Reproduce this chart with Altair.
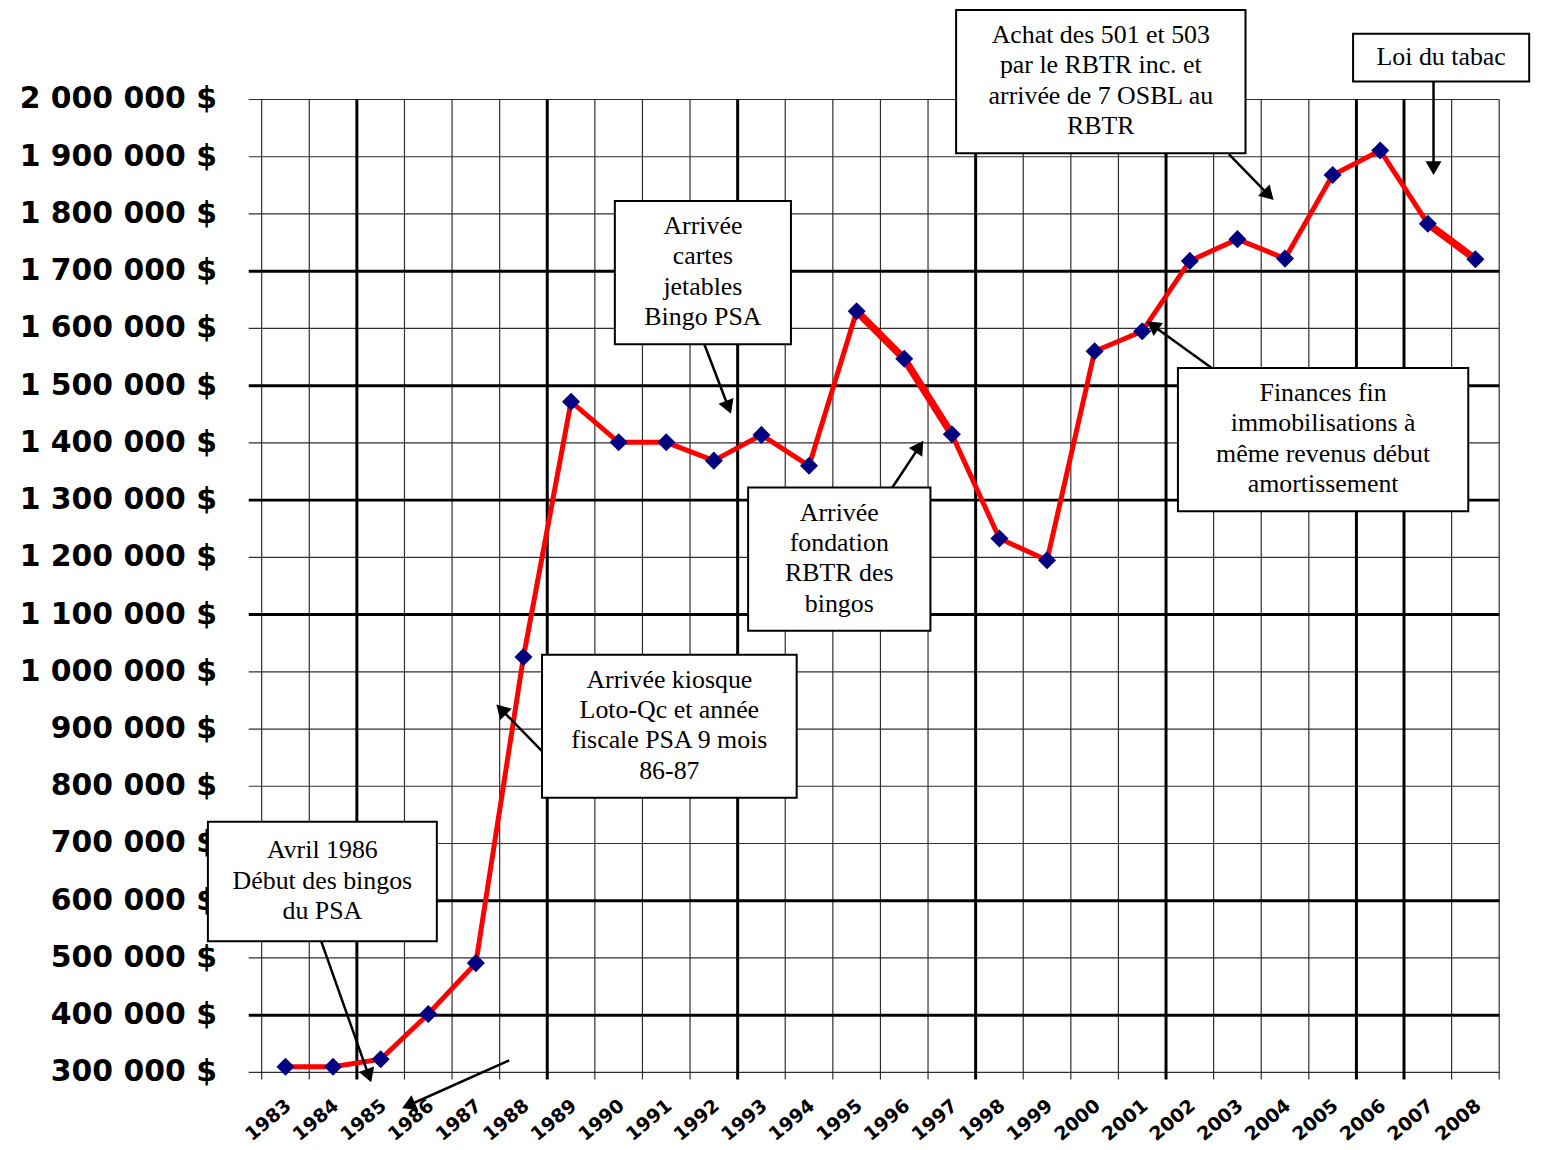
import math
import altair as alt
import pandas as pd

# ---------------- data ----------------
years = list(range(1983, 2009))
revenus = [310000, 310000, 323000, 402000, 491000, 1026000, 1472000, 1401000,
           1401000, 1369000, 1414000, 1360000, 1630000, 1547000, 1415000, 1233000,
           1195000, 1560000, 1595000, 1718000, 1756000, 1722000, 1868000, 1911000,
           1783000, 1721000]
thick_groups = {"a": [1995, 1996, 1997], "b": [2007, 2008]}

y_ticks = list(range(300000, 2000001, 100000))
y_labels = [f"{v:,}".replace(",", " ") + " $" for v in y_ticks]
x_labels = [str(y) for y in years]
thick_h = [400000, 600000, 1100000, 1300000, 1500000, 1700000]
bounds = [1982.5 + i for i in range(27)]
thick_v = [1984.5, 1988.5, 1992.5, 1997.5, 2001.5, 2005.5, 2006.5]

# annotation boxes (data units: year, $)
ann_text = [
    "Avril 1986\nDébut des bingos\ndu PSA",
    "Arrivée kiosque\nLoto-Qc et année\nfiscale PSA 9 mois\n86-87",
    "Arrivée\ncartes\njetables\nBingo PSA",
    "Arrivée\nfondation\nRBTR des\nbingos",
    "Achat des 501 et 503\npar le RBTR inc. et\narrivée de 7 OSBL au\nRBTR",
    "Loi du tabac",
    "Finances fin\nimmobilisations à\nmême revenus début\namortissement",
]
ann_x1 = [1981.37, 1988.39, 1989.92, 1992.72, 1997.09, 2005.43, 2001.75]
ann_x2 = [1986.18, 1993.74, 1993.62, 1996.55, 2003.17, 2009.13, 2007.85]
ann_y1 = [738000, 1030000, 1822700, 1322100, 2156400, 2114700, 1530700]
ann_y2 = [529000, 780000, 1572400, 1071800, 1906100, 2031300, 1280400]

# arrows: start -> tip (data units)
arr_sx = [1983.75, 1987.70, 1988.39, 1991.80, 1995.75, 2002.82, 2007.12, 2002.46]
arr_sy = [529400, 320900, 861400, 1572400, 1322100, 1904400, 2031300, 1530700]
arr_tx = [1984.80, 1985.45, 1987.43, 1992.36, 1996.40, 2003.76, 2007.12, 2001.10]
arr_ty = [282600, 237400, 943100, 1450700, 1403800, 1824400, 1867900, 1612400]

# ---------------- layout ----------------
W, H = 1244, 978
X0, X1 = 1982.5, 2008.5
Y0, Y1 = 300000, 2000000
LH = 30.5
xs = alt.Scale(domain=[X0, X1], nice=False, zero=False)
ys = alt.Scale(domain=[Y0, Y1], nice=False, zero=False)


def to_px(x, y):
    return ((x - X0) / (X1 - X0) * W, (Y1 - y) / (Y1 - Y0) * H)


def to_data(px, py):
    return (X0 + px / W * (X1 - X0), Y1 - py / H * (Y1 - Y0))


df = pd.DataFrame({"annee": years, "revenu": revenus})
rows = []
for g, ys_ in thick_groups.items():
    for yr in ys_:
        rows.append({"annee": yr, "revenu": revenus[years.index(yr)], "g": g})
df_thick = pd.DataFrame(rows)

hthin = pd.DataFrame({"v": [v for v in y_ticks if v not in thick_h]})
hthick = pd.DataFrame({"v": thick_h})
vthin = pd.DataFrame({"b": [b for b in bounds if b not in thick_v]})
vthick = pd.DataFrame({"b": thick_v})
ylab = pd.DataFrame({"v": y_ticks, "lab": y_labels})
xlab = pd.DataFrame({"annee": years, "lab": x_labels})
xlab["xl"] = xlab.annee + 3 / W * (X1 - X0)

ann = pd.DataFrame({"x1": ann_x1, "x2": ann_x2, "y1": ann_y1, "y2": ann_y2, "text": ann_text})
ann["tx"] = (ann.x1 + ann.x2) / 2
tys = []
for y1, y2, t in zip(ann_y1, ann_y2, ann_text):
    n = t.count("\n") + 1
    _, cpy = to_px(0, (y1 + y2) / 2)
    tys.append(to_data(0, cpy - (n - 1) * LH / 2 - 1)[1])
ann["ty"] = tys

arr_rows = []
for sx, sy, tx, ty in zip(arr_sx, arr_sy, arr_tx, arr_ty):
    spx, spy = to_px(sx, sy)
    tpx, tpy = to_px(tx, ty)
    dx, dy = tpx - spx, tpy - spy
    L = math.hypot(dx, dy)
    ux, uy = dx / L, dy / L
    ang = math.degrees(math.atan2(dx, -dy)) % 360
    ex, ey = to_data(tpx - ux * 8, tpy - uy * 8)
    cx, cy = to_data(tpx - ux * 7, tpy - uy * 7)
    arr_rows.append({"sx": sx, "sy": sy, "ex": ex, "ey": ey, "cx": cx, "cy": cy, "ang": ang})
arr = pd.DataFrame(arr_rows)

# ---------------- layers ----------------
l_hthin = alt.Chart(hthin).mark_rule(color="#2e2e2e", strokeWidth=1.2).encode(
    y=alt.Y("v:Q", scale=ys, axis=None), x=alt.value(-13), x2=alt.value(W))
l_hthick = alt.Chart(hthick).mark_rule(color="black", strokeWidth=3).encode(
    y=alt.Y("v:Q", scale=ys, axis=None), x=alt.value(-13), x2=alt.value(W))
l_vthin = alt.Chart(vthin).mark_rule(color="#2e2e2e", strokeWidth=1.2).encode(
    x=alt.X("b:Q", scale=xs, axis=None), y=alt.value(0), y2=alt.value(H + 7))
l_vthick = alt.Chart(vthick).mark_rule(color="black", strokeWidth=3).encode(
    x=alt.X("b:Q", scale=xs, axis=None), y=alt.value(0), y2=alt.value(H + 7))

# tick labels (drawn as text marks through the same scales)
l_ylab = alt.Chart(ylab).mark_text(font="DejaVu Sans", fontWeight="bold", fontSize=30,
                                    align="right", baseline="middle", color="black").encode(
    y=alt.Y("v:Q", scale=ys, axis=None), x=alt.value(-45), text="lab:N")
l_xlab = alt.Chart(xlab).mark_text(font="DejaVu Sans", fontWeight="bold", fontSize=19,
                                    align="right", baseline="middle", color="black",
                                    angle=320).encode(
    x=alt.X("xl:Q", scale=xs, axis=None), y=alt.value(H + 31), text="lab:N")

l_line = alt.Chart(df).mark_line(color="#FF0000", strokeWidth=5).encode(
    x=alt.X("annee:Q", scale=xs, axis=None),
    y=alt.Y("revenu:Q", scale=ys, axis=None))
l_thick = alt.Chart(df_thick).mark_line(color="#FF0000", strokeWidth=7.5).encode(
    x=alt.X("annee:Q", scale=xs, axis=None),
    y=alt.Y("revenu:Q", scale=ys, axis=None), detail="g:N")
l_pts = alt.Chart(df).mark_point(shape="diamond", filled=True, color="#000080",
                                  size=330, opacity=1).encode(
    x=alt.X("annee:Q", scale=xs, axis=None),
    y=alt.Y("revenu:Q", scale=ys, axis=None))

l_box = alt.Chart(ann).mark_rect(fill="white", stroke="black", strokeWidth=2).encode(
    x=alt.X("x1:Q", scale=xs, axis=None), x2="x2:Q",
    y=alt.Y("y1:Q", scale=ys, axis=None), y2="y2:Q")
l_txt = alt.Chart(ann).mark_text(font="Liberation Serif", fontSize=26, lineHeight=LH,
                                  align="center", baseline="middle", color="black",
                                  lineBreak="\n").encode(
    x=alt.X("tx:Q", scale=xs, axis=None),
    y=alt.Y("ty:Q", scale=ys, axis=None), text="text:N")

l_arr = alt.Chart(arr).mark_rule(color="black", strokeWidth=2.5).encode(
    x=alt.X("sx:Q", scale=xs, axis=None), x2="ex:Q",
    y=alt.Y("sy:Q", scale=ys, axis=None), y2="ey:Q")
l_head = alt.Chart(arr).mark_point(shape="triangle-up", filled=True, color="black",
                                    size=260, opacity=1).encode(
    x=alt.X("cx:Q", scale=xs, axis=None),
    y=alt.Y("cy:Q", scale=ys, axis=None),
    angle=alt.Angle("ang:Q", scale=None))

chart = alt.layer(
    l_hthin, l_vthin, l_hthick, l_vthick, l_ylab, l_xlab, l_line, l_thick, l_pts,
    l_box, l_txt, l_arr, l_head
).properties(
    width=W, height=H,
    autosize=alt.AutoSizeParams(type="none"),
    padding={"left": 255, "top": 89, "right": 40, "bottom": 75},
    background="white",
).configure_view(stroke=None)

chart.save("out.html", embed_options={"renderer": "svg", "actions": False})
